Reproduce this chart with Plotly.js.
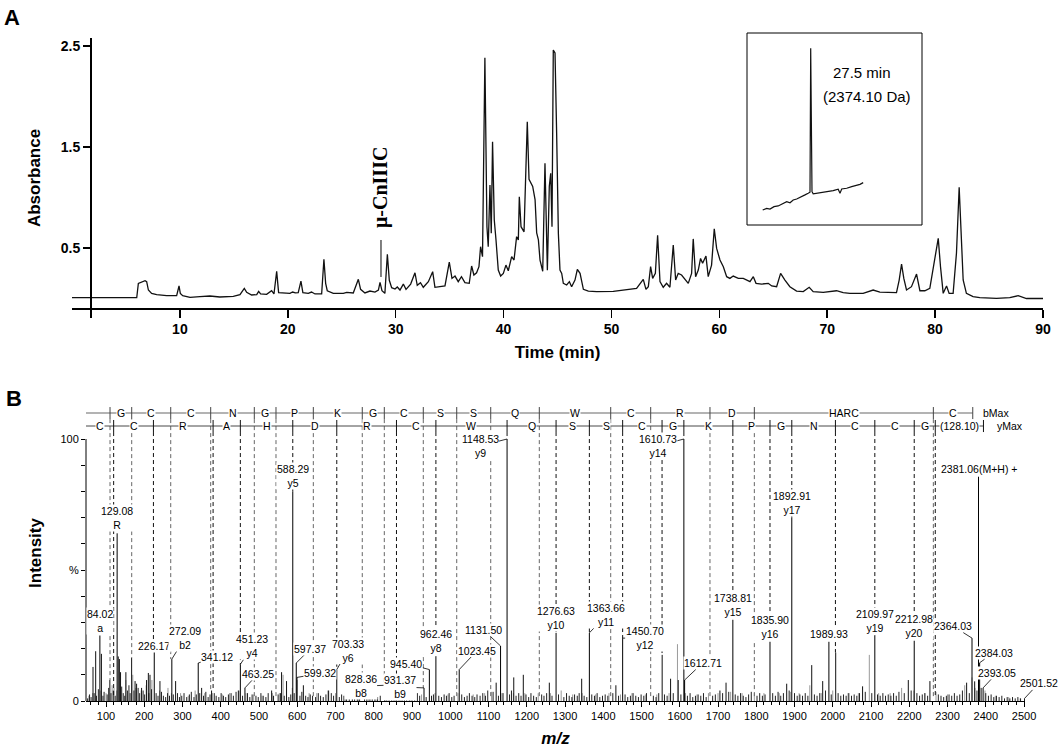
<!DOCTYPE html>
<html><head><meta charset="utf-8">
<script src="https://cdn.plot.ly/plotly-3.0.1.min.js"></script>
<style>html,body{margin:0;padding:0;background:#fff;}#chart{width:1063px;height:751px;}</style>
</head><body><div id="chart"></div>
<script>
// ================= DATA =================
// Panel A: HPLC chromatogram  [time (min), absorbance]
const chromatogram = [
[0,0.008],[6.0,0.008],[6.15,0.15],[6.45,0.166],[6.77,0.176],[6.92,0.166],[7.08,0.084],[7.38,0.051],[7.85,0.038],[8.77,0.028],[9.7,0.028],[9.92,0.124],[10.04,0.051],[10.26,0.028],[10.94,0.012],[11.86,0.018],[12.78,0.025],[13.7,0.015],[14.95,0.022],[15.57,0.038],[15.97,0.10],[16.19,0.061],[16.65,0.035],[17.12,0.038],[17.3,0.071],[17.48,0.045],[18.04,0.041],[18.5,0.077],[18.72,0.045],[18.97,0.269],[19.15,0.058],[20.2,0.051],[20.45,0.064],[20.7,0.055],[20.97,0.058],[21.22,0.173],[21.4,0.058],[21.9,0.051],[22.2,0.064],[22.52,0.045],[23.14,0.045],[23.35,0.388],[23.51,0.150],[23.66,0.077],[24.22,0.051],[25.15,0.051],[25.46,0.061],[26.07,0.055],[26.54,0.19],[26.75,0.091],[27.15,0.055],[27.62,0.074],[28.08,0.064],[28.4,0.084],[28.55,0.16],[28.73,0.077],[29.0,0.051],[29.23,0.437],[29.41,0.18],[29.63,0.107],[29.94,0.094],[30.15,0.114],[30.4,0.084],[30.71,0.143],[30.96,0.091],[31.39,0.143],[31.79,0.255],[32.0,0.130],[32.3,0.157],[32.56,0.111],[33.03,0.167],[33.43,0.266],[33.64,0.111],[34.1,0.117],[34.57,0.124],[34.97,0.361],[35.22,0.199],[35.5,0.222],[35.8,0.167],[36.1,0.216],[36.42,0.157],[36.82,0.150],[37.04,0.322],[37.25,0.233],[37.5,0.255],[37.72,0.315],[37.87,0.513],[38.05,0.414],[38.27,2.384],[38.46,0.711],[38.58,0.513],[38.74,1.124],[38.86,0.645],[38.98,1.553],[39.14,0.777],[39.3,0.579],[39.51,0.282],[39.73,0.222],[39.98,0.249],[40.22,0.331],[40.44,0.275],[40.75,0.414],[40.97,0.381],[41.21,0.612],[41.37,0.579],[41.46,1.008],[41.62,0.711],[41.9,0.66],[42.2,1.75],[42.36,1.18],[42.7,1.11],[42.92,0.98],[43.07,0.65],[43.23,0.58],[43.38,0.38],[43.63,0.27],[43.84,1.34],[44.06,0.28],[44.24,1.11],[44.37,1.24],[44.49,0.71],[44.61,2.46],[44.77,2.43],[44.92,1.635],[45.08,0.645],[45.23,0.282],[45.39,0.249],[45.54,0.15],[45.85,0.134],[46.1,0.167],[46.31,0.117],[46.62,0.183],[46.84,0.289],[47.09,0.249],[47.4,0.091],[47.86,0.074],[48.63,0.068],[50.17,0.071],[51.1,0.084],[51.72,0.091],[52.33,0.101],[52.95,0.190],[53.2,0.091],[53.42,0.117],[53.63,0.315],[53.82,0.199],[54.07,0.249],[54.28,0.625],[54.5,0.167],[54.8,0.111],[55.11,0.150],[55.42,0.111],[55.73,0.53],[55.95,0.183],[56.19,0.249],[56.5,0.233],[56.72,0.199],[57.12,0.150],[57.43,0.249],[57.58,0.59],[57.8,0.216],[58.05,0.282],[58.26,0.397],[58.45,0.348],[58.76,0.42],[58.97,0.216],[59.28,0.331],[59.53,0.691],[59.75,0.496],[60.06,0.381],[60.37,0.315],[60.68,0.216],[60.98,0.199],[61.29,0.222],[61.76,0.199],[62.22,0.199],[62.84,0.167],[63.15,0.216],[63.4,0.15],[63.92,0.143],[64.54,0.150],[64.85,0.124],[65.31,0.117],[65.68,0.249],[66.08,0.183],[66.54,0.117],[67.16,0.074],[67.78,0.068],[68.33,0.111],[68.7,0.068],[69.63,0.061],[70.86,0.077],[71.48,0.058],[72.1,0.051],[73.33,0.051],[74.26,0.084],[74.88,0.064],[75.8,0.061],[76.42,0.058],[76.67,0.183],[76.89,0.341],[77.1,0.199],[77.35,0.084],[77.81,0.117],[78.28,0.242],[78.59,0.077],[79.05,0.077],[79.51,0.101],[79.98,0.414],[80.29,0.596],[80.5,0.315],[80.75,0.051],[81.06,0.124],[81.3,0.051],[81.67,0.051],[81.98,0.45],[82.23,1.1],[82.45,0.48],[82.6,0.183],[82.9,0.051],[83.52,0.018],[84.14,0.008],[85.69,0.002],[86.92,0.008],[87.7,0.028],[88.47,0.0],[90,0.0]
];
const timeTicks = [10,20,30,40,50,60,70,80,90];
const absTicks = [0.5,1.5,2.5];
const cnPeakTime = 28.64;
const cnPeakName = 'μ-CnIIIC';

// Inset: re-chromatography of the purified peak [time (min), absorbance]
const insetTrace = [
[17.9,0.029],[18.7,0.039],[19.36,0.035],[20.16,0.049],[21.0,0.053],[22.0,0.065],[22.7,0.078],[23.36,0.072],[24.0,0.088],[24.7,0.094],[25.5,0.108],[26.36,0.118],[27.0,0.128],[27.36,0.134],[27.5,0.98],[27.76,0.137],[28.0,0.124],[29.0,0.128],[30.0,0.131],[31.0,0.137],[32.0,0.143],[33.0,0.151],[33.36,0.128],[33.7,0.153],[34.7,0.157],[35.7,0.167],[36.7,0.175],[37.36,0.18],[38.0,0.19]
];
const insetText = ['27.5 min', '(2374.10 Da)'];

// Panel B: MS/MS spectrum [m/z, relative intensity %]
const labeledPeaks = [
[84.02,25],[129.08,64],[226.17,22],[272.09,16],[341.12,14.5],[451.23,14],[463.25,5],[588.29,80],[597.37,14.5],[599.32,9],
[703.33,12],[828.36,6],[931.37,5],[945.40,12],[962.46,17],[1023.45,12],[1131.50,21],[1148.53,100],[1276.63,26],[1363.66,26],
[1450.70,24],[1610.73,100],[1612.71,8],[1738.81,31],[1835.90,22.6],[1892.91,70],[1989.93,22.6],[2109.97,25],[2212.98,23],[2364.03,24],
[2381.06,85.6],[2384.03,14.6],[2393.05,5],[2501.52,1]
];
const labeledText = [
'84.02<br>a','129.08<br>R','226.17','272.09<br>b2','341.12','451.23<br>y4','463.25','588.29<br>y5','597.37','599.32',
'703.33<br>y6','828.36<br>b8','931.37<br>b9','945.40','962.46<br>y8','1023.45','1131.50','1148.53<br>y9','1276.63<br>y10','1363.66<br>y11',
'1450.70<br>y12','1610.73<br>y14','1612.71','1738.81<br>y15','1835.90<br>y16','1892.91<br>y17','1989.93','2109.97<br>y19','2212.98<br>y20','2364.03',
'2381.06(M+H) +','2384.03','2393.05','2501.52'
];
const otherPeaks = [
[66,13],[73,19],[88,18],[110,8],[132,17],[135,16],[138,11],[152,11],[167,16.4],[176,7.6],[180,6.6],[193,5],[206,8],[210.7,10.7],[215,10],[241,7.6],[282,7.6],[350,5],[376,4],[446,4],[533,4],[559,11],[572,7.6],[616,6],[682,4],[744,5],[847,4],[1120,7],[1166,9],[1191,10],[1259,7],[1343.6,8.5],[1433,6],[1554,17.6],[1576,8.5],[1596,8],[1705,4],[1721,7],[1879.6,6.6],[1945,13.7],[1973.7,7.6],[2007.7,18.5],[2078,5.6],[2197.5,8],[2254,7.6],[2350,7],[2371,7.5]
];
const greyPeaks = [
[55,2],[65,3],[85,4],[100,3],[116,6],[121,5],[128,4],[152,8],[170,10],[178,5],[192,4],[205,6],[220,8],[240,4],[262,5],[271,3],[295,3],[315,2],[333,4],[358,3],[378,3],[404,2.5],[423,3],[448,4],[466,3],[486,2.5],[508,2],[535,3],[553,3],[563,10],[587,5],[600,8],[631,3],[651,3],[680,4],[700,3],[726,3],[760,3],[786,2.5],[806,3],[830,3],[857,3],[870,5],[897,3],[925,2.5],[960,3],[994,2.5],[1020,3],[1060,2.5],[1090,3],[1108,3.5],[1135,3],[1165,3],[1195,3],[1230,3],[1262,3],[1290,4],[1320,2.5],[1345,3],[1380,2.5],[1415,3],[1445,2.5],[1475,3],[1510,2.5],[1540,2.5],[1572,3],[1594,21.7],[1615,3],[1645,2.5],[1675,3],[1700,3],[1733,3.5],[1763,3],[1795,3],[1820,3],[1860,3],[1890,3.5],[1912,3],[1940,6],[1970,3],[2000,4],[2040,3],[2067,3],[2095.6,17.6],[2120,3],[2150,3],[2180,5],[2212,4],[2240,3],[2270,3.5],[2300,2.5],[2345,6],[2364,9],[2372,5],[2398,4],[2425,2],[2460,1.5],[2490,1]
];
const noisePeaks = [
[52,1.0],[57,2.5],[61,1.5],[69,3],[75,2],[80,4.5],[92,2],[95,3.5],[103,2.5],[107,5],[113,3],[119,4],[124,2],[141,5.5],[145,3],[149,2],[156,4],[160,6],[163,3],[173,4],[184,5],[188,3],[197,4],[201,2.5],[212,3],[219,4.5],[231,3],[236,2],[245,3.5],[250,2],
[256,1.5],[261,3],[266,2],[276,2.5],[287,3],[292,1.5],[298,2],[304,3],[311,1.5],[318,2.5],[323,3.5],[330,1.5],[336,2.5],[345,3],[355,2],[361,3.5],[367,1.5],[372,2.5],[383,3],[388,2],[395,1.5],[401,3],[407,2],[413,1.5],[420,2.5],[427,3],[433,2],[440,3.5],[457,2],[470,3],[476,1.5],[482,2.5],[492,2],[498,1.5],[505,3],[511,2],[518,1.5],[524,3],[538,2],[550,2.5],[556,3],[566,2],[578,1.5],[583,2.5],[592,3],[607,2],[612,3.5],[622,2],[628,1.5],[634,2.5],[640,2],[648,1.5],[655,3],[661,2],[668,1.5],[675,2.5],[689,3],[695,2],
[710,1.5],[716,2.5],[722,2],[729,3],[736,2],[750,1.5],[757,3],[763,2],[776,2.5],[782,1.5],[790,2],[796,3],[803,2.5],[810,1.5],[817,2],[834,3],[840,2],[853,1.5],[860,2.5],[866,2],[874,3],[880,1.5],[886,2],[893,2.5],[900,1.5],[907,2],[914,3],[920,2],[937,1.5],[951,2],[956,2.5],[970,2],[977,1.5],[984,2.5],[990,2],[997,3],[1004,1.5],[1010,2],[1030,2.5],[1037,1.5],[1044,2],[1050,3],[1057,2],[1064,1.5],[1070,2.5],[1078,2],[1085,3],[1092,2],[1098,4],[1112,3.5],[1126,2],[1138,3],[1155,2.5],[1160,4],[1172,2],[1179,3],[1185,2],[1198,2.5],
[1205,1.5],[1211,3],[1218,2],[1225,1.5],[1239,2.5],[1245,2],[1252,3],[1266,2],[1283,2.5],[1297,1.5],[1304,3],[1311,2],[1318,1.5],[1325,2.5],[1332,2],[1337,3],[1350,2],[1357,1.5],[1370,2.5],[1377,2],[1384,3],[1391,1.5],[1398,2],[1405,2.5],[1412,2],[1425,3],[1440,2],[1457,2.5],[1464,1.5],[1471,2],[1478,3],[1485,2],[1492,1.5],[1499,2.5],[1506,2],[1513,3],[1531,2],[1538,1.5],[1545,3],[1560,2.5],[1567,2],[1583,3],[1603,2.5],[1620,2],[1627,3],[1634,1.5],[1641,2],[1648,2.5],[1655,2],[1662,3],[1669,1.5],[1686,2],[1693,2.5],
[1712,3],[1728,3.5],[1745,2.5],[1752,2],[1759,3],[1766,2],[1773,1.5],[1780,2.5],[1787,3.5],[1802,2],[1809,3],[1816,2],[1823,2.5],[1843,3],[1850,2],[1857,3.5],[1864,2],[1871,3],[1886,4],[1900,3],[1907,2],[1914,2.5],[1921,2],[1928,3],[1935,2],[1952,2.5],[1959,2],[1966,3],[1981,4],[1996,2.5],[2014,3],[2021,2],[2028,2.5],[2035,2],[2042,3],[2049,2],[2056,2.5],[2063,2],[2070,3],[2085,3.5],[2102,3],[2117,2.5],[2124,2],[2131,3],[2138,2],[2145,2.5],[2152,2],[2159,3],[2166,2],[2173,3.5],[2187,3],[2205,4],[2220,3],[2227,2],[2234,2.5],[2241,3],[2248,2],[2276,2.5],[2283,2],[2290,1.5],[2297,2],[2304,2.5],[2311,2],[2318,3],[2325,2],[2332,2.5],[2339,4],[2357,3],[2377,4],[2388,5],[2400,3],[2407,2],[2414,2.5],[2421,1.5],[2428,2],[2435,1.5],[2442,2],[2449,1],[2456,1.5],[2463,1],[2470,1.5],[2477,1],[2484,1.5],[2491,1]
];
// Sequence ladders (m/z of fragment boundaries) and residues between them
const bMarkers = [110.5,167.2,269.2,373.7,487.7,544.4,642,770,827.6,929.5,1016.9,1105.8,1232.8,1419.5,1524,1679,1795,2263,2366];
const bResidues = ['','G','C','C','N','G','P','K','G','C','S','S','Q','W','C','R','D','HARC','C'];
const yMarkers = [120,224,380,451.23,588.29,703.33,859.4,962.46,1148.53,1276.63,1363.66,1450.70,1553.7,1610.73,1738.81,1835.90,1892.91,2007,2109.97,2212.98,2268,2394];
const yResidues = ['C','C','R','A','H','D','R','C','W','Q','S','S','C','G','K','P','G','N','C','C','G','(128.10)'];
const mzTicks = [100,200,300,400,500,600,700,800,900,1000,1100,1200,1300,1400,1500,1600,1700,1800,1900,2000,2100,2200,2300,2400,2500];
const intTicks = [0,10,20,30,40,50,60,70,80,90,100];
const intTickText = ['0','','','','','%','','','','','100'];

// ================= LAYOUT HELPERS =================
const W = 1063, H = 751;
const FONT = 'Arial, "Liberation Sans", Helvetica, sans-serif';
const px = v => v / W, py = v => 1 - v / H;
const MZ0 = 47.7, MZ1 = 2502.6;
const B_ROW = 109.9, Y_ROW = 104.96;

// label placement: null = centred above peak, 'mid' = on peak top, [ax, ay] = leader line
const labelPlacement = [
null,null,'mid',[13,-21],[19,-6],[12,-18],[13,-14],null,[14,-14],[23,-4],
[11,-19],[-24,1],[-24,-1],[-23,-6],null,[18,-19],[-17,-16],[-27,7],null,[17,-18],
[22,0],[-26,7],[18,-17],null,null,null,null,null,null,[-19,-12],
null,[14,-10],[14,-15],[14,-15]
];

const traces = [];
const skip = {hoverinfo:'skip', showlegend:false, type:'scatter', mode:'lines'};

traces.push(Object.assign({}, skip, {x: chromatogram.map(p=>p[0]), y: chromatogram.map(p=>p[1]), xaxis:'x', yaxis:'y', line:{color:'#111', width:1.3}}));
traces.push(Object.assign({}, skip, {x: insetTrace.map(p=>p[0]), y: insetTrace.map(p=>p[1]), xaxis:'x2', yaxis:'y2', line:{color:'#111', width:1.2}}));

function sticks(list, color, width){
  const x=[], y=[];
  list.forEach(([m,i])=>{ x.push(m,m,null); y.push(0,i,null); });
  return Object.assign({}, skip, {x, y, xaxis:'x3', yaxis:'y3', line:{color, width}});
}
traces.push(sticks(greyPeaks, '#9a9a9a', 1));
traces.push(sticks(noisePeaks, '#222', 1));
traces.push(sticks(otherPeaks, '#111', 1));
traces.push(sticks(labeledPeaks, '#000', 1));

const matchPeaks = labeledPeaks.concat(otherPeaks);
function peakTop(m){
  let best = null;
  matchPeaks.forEach(([pm,pi])=>{ if (Math.abs(pm-m) <= 4 && (best===null || pi>best)) best = pi; });
  return best===null ? 1.5 : best;
}
function segs(markers, yTop, useBottom, color, dash){
  const x=[], y=[];
  markers.forEach(m=>{ x.push(m,m,null); y.push(yTop, useBottom ? peakTop(m) : yTop - 4.6, null); });
  return Object.assign({}, skip, {x, y, xaxis:'x3', yaxis:'y3', line:{color, width:1, dash}});
}
// dashed drop lines (last marker of each ladder has none)
traces.push(segs(bMarkers.slice(0,-1), B_ROW-2.3, true, '#666', '4px,3px'));
traces.push(segs(yMarkers.slice(0,-1), Y_ROW-2.3, true, '#111', '4px,3px'));
// ladder lines
traces.push(Object.assign({}, skip, {x:[MZ0, bMarkers[bMarkers.length-1]], y:[B_ROW,B_ROW], xaxis:'x3', yaxis:'y3', line:{color:'#9a9a9a', width:1.6}}));
traces.push(Object.assign({}, skip, {x:[MZ0, yMarkers[yMarkers.length-1]], y:[Y_ROW,Y_ROW], xaxis:'x3', yaxis:'y3', line:{color:'#333', width:0.9}}));
// marker ticks
traces.push(segs(bMarkers, B_ROW+2.3, false, '#444', 'solid'));
traces.push(segs(yMarkers, Y_ROW+2.3, false, '#111', 'solid'));

// ================= ANNOTATIONS =================
const ann = [];
function paperText(x, y, text, size, extra){
  return Object.assign({xref:'paper', yref:'paper', x:px(x), y:py(y), text, showarrow:false, xanchor:'center', yanchor:'middle',
    font:{family:FONT, size, color:'#000'}}, extra || {});
}
ann.push(paperText(12, 18, '<b>A</b>', 22));
ann.push(paperText(14, 399, '<b>B</b>', 22));
ann.push(paperText(862, 72.5, insetText[0], 15));
ann.push(paperText(867, 96.5, insetText[1], 15));
ann.push({xref:'x', yref:'y', x:cnPeakTime, y:0.213, ax:0, ay:-90, text:'<b>'+cnPeakName+'</b>', textangle:-90,
  showarrow:true, arrowhead:0, arrowwidth:1, arrowcolor:'#000', startstandoff:11,
  font:{family:'"Liberation Serif","Times New Roman",serif', size:20, color:'#000'}});

// peak labels
labeledPeaks.forEach(([m,i],k)=>{
  const pl = labelPlacement[k];
  const a = {xref:'x3', yref:'y3', x:m, y:i, text:labeledText[k], font:{family:FONT, size:10.5, color:'#000'}, bgcolor:'#fff', borderpad:0};
  if (pl === null) { a.showarrow = false; a.yanchor = 'bottom'; a.yshift = 1; }
  else if (pl === 'mid') { a.showarrow = false; a.yanchor = 'middle'; a.yshift = -3; }
  else { a.showarrow = true; a.ax = pl[0]; a.ay = pl[1]; a.arrowhead = 0; a.arrowwidth = 0.8; a.arrowcolor = '#000'; a.standoff = 0; }
  ann.push(a);
});
// ladder residues
function residues(markers, letters, row){
  const bounds = [MZ0].concat(markers);
  letters.forEach((t,k)=>{
    if (!t) return;
    ann.push({xref:'x3', yref:'y3', x:(bounds[k]+bounds[k+1])/2, y:row, text:t, showarrow:false, xanchor:'center', yanchor:'middle',
      font:{family:FONT, size:10.5, color:'#000'}, bgcolor:'#fff', borderpad:0});
  });
}
residues(bMarkers, bResidues, B_ROW);
residues(yMarkers, yResidues, Y_ROW);
ann.push({xref:'paper', yref:'y3', x:px(996), y:B_ROW, text:'bMax', showarrow:false, xanchor:'center', yanchor:'middle', font:{family:FONT, size:10.5, color:'#000'}});
ann.push({xref:'paper', yref:'y3', x:px(1010), y:Y_ROW, text:'yMax', showarrow:false, xanchor:'center', yanchor:'middle', font:{family:FONT, size:10.5, color:'#000'}});

const boldTick = {family:FONT, size:14, color:'#000', weight:'bold'};
const layout = {
  width:W, height:H, margin:{l:0,r:0,t:0,b:0}, paper_bgcolor:'#fff', plot_bgcolor:'rgba(0,0,0,0)', showlegend:false,
  xaxis:{domain:[px(72), px(1043)], range:[0,90], anchor:'free', position:py(308), showline:true, linewidth:1.5, linecolor:'#000',
    ticks:'outside', ticklen:8, tickwidth:1.5, tickcolor:'#000', tickvals:timeTicks, tickfont:boldTick, showgrid:false, zeroline:false,
    title:{text:'<b>Time (min)</b>', font:{family:FONT, size:17, color:'#000'}, standoff:10}},
  yaxis:{domain:[py(318), py(38)], range:[-0.193, 2.579], anchor:'free', position:px(90), showline:true, linewidth:1.5, linecolor:'#000',
    ticks:'outside', ticklen:7, tickwidth:1.5, tickcolor:'#000', tickvals:absTicks, ticktext:absTicks.map(v=>v.toFixed(1)), tickfont:boldTick,
    showgrid:false, zeroline:false, title:{text:'<b>Absorbance</b>', font:{family:FONT, size:17, color:'#000'}, standoff:14}},
  xaxis2:{domain:[px(747), px(922)], range:[14.76, 49.76], anchor:'y2', visible:false},
  yaxis2:{domain:[py(225), py(33)], range:[-0.059, 1.07], anchor:'x2', visible:false},
  xaxis3:{domain:[px(86), px(1025)], range:[MZ0, MZ1], anchor:'y3', showline:true, linewidth:1, linecolor:'#000',
    ticks:'outside', ticklen:5, tickwidth:1, tickcolor:'#000', tickvals:mzTicks, tickfont:{family:FONT, size:11, color:'#000'},
    minor:{tick0:0, dtick:20, ticks:'outside', ticklen:3, tickwidth:1, tickcolor:'#000', showgrid:false},
    showgrid:false, zeroline:false,
    title:{text:'<b><i>m/z</i></b>', font:{family:FONT, size:17, color:'#000'}, standoff:10}},
  yaxis3:{domain:[py(701), py(405)], range:[0, 112.98], anchor:'x3', showline:false,
    ticks:'outside', ticklen:4, tickwidth:1, tickcolor:'#000', tickvals:intTicks, ticktext:intTickText, tickfont:{family:FONT, size:11, color:'#000'},
    showgrid:false, zeroline:false, title:{text:'<b>Intensity</b>', font:{family:FONT, size:17, color:'#000'}, standoff:14}},
  shapes:[
    {type:'rect', xref:'paper', yref:'paper', x0:px(747), x1:px(922), y0:py(225), y1:py(33), line:{color:'#000', width:1}},
    {type:'line', xref:'paper', yref:'y3', x0:px(86), x1:px(86), y0:0, y1:100, line:{color:'#000', width:1}}
  ],
  annotations: ann
};
Plotly.newPlot('chart', traces, layout, {staticPlot:true, displayModeBar:false});
</script>
</body></html>
